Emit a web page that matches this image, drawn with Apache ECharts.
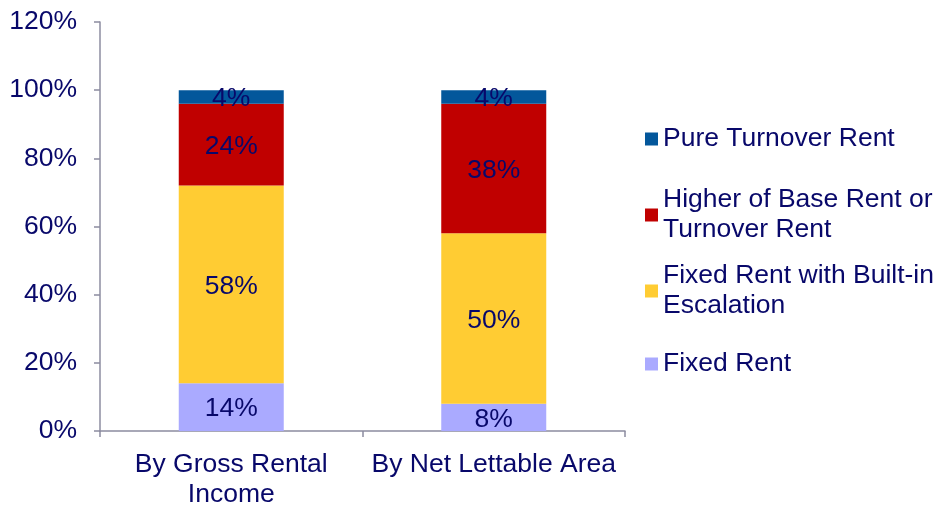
<!DOCTYPE html>
<html>
<head>
<meta charset="utf-8">
<script src="https://cdn.jsdelivr.net/npm/echarts@6/dist/echarts.min.js"></script>
<style>
html,body{margin:0;padding:0;background:#fff;}
#chart{width:940px;height:510px;}
</style>
</head>
<body>
<div id="chart"></div>
<script>
var categories = ['By Gross Rental\nIncome', 'By Net Lettable Area'];
var seriesNames = ['Fixed Rent', 'Fixed Rent with Built-in Escalation', 'Higher of Base Rent or Turnover Rent', 'Pure Turnover Rent'];
var fixedRent = [14, 8];
var fixedEscalation = [58, 50];
var higherOf = [24, 38];
var pureTurnover = [4, 4];
var yTicks = [0, 20, 40, 60, 80, 100, 120];

var colors = ['#AAAAFF', '#FFCC33', '#C00000', '#03579B'];
var textColor = '#08086A';
var axisColor = '#8C8CA0';
var font = 'Liberation Sans, Arial, sans-serif';
var fs = 26.5;

var values = [fixedRent, fixedEscalation, higherOf, pureTurnover];
var legendText = {
  'Pure Turnover Rent': 'Pure Turnover Rent',
  'Higher of Base Rent or Turnover Rent': 'Higher of Base Rent or\nTurnover Rent',
  'Fixed Rent with Built-in Escalation': 'Fixed Rent with Built-in\nEscalation',
  'Fixed Rent': 'Fixed Rent'
};

function mkLegend(name, top, twoLine) {
  return {
    data: [name],
    left: 645,
    top: top,
    orient: 'vertical',
    padding: 0,
    itemWidth: 13,
    itemHeight: 13,
    icon: 'rect',
    selectedMode: false,
    formatter: function (n) { return legendText[n]; },
    textStyle: {
      color: textColor,
      fontFamily: font,
      fontSize: fs,
      lineHeight: 30,
      padding: twoLine ? [30, 0, 0, 0] : 0
    }
  };
}

var chart = echarts.init(document.getElementById('chart'), null, {renderer: 'canvas'});
chart.setOption({
  animation: false,
  color: colors,
  grid: {left: 100, right: 315, top: 22, bottom: 73, containLabel: false},
  legend: [
    mkLegend('Pure Turnover Rent', 124, false),
    mkLegend('Higher of Base Rent or Turnover Rent', 170, true),
    mkLegend('Fixed Rent with Built-in Escalation', 246, true),
    mkLegend('Fixed Rent', 349, false)
  ],
  xAxis: {
    type: 'category',
    data: categories,
    axisLine: {lineStyle: {color: axisColor, width: 1.5}},
    axisTick: {show: true, length: 6, lineStyle: {color: axisColor, width: 1.5}},
    axisLabel: {interval: 0, color: textColor, fontFamily: font, fontSize: fs, lineHeight: 30, margin: 19}
  },
  yAxis: {
    type: 'value',
    min: yTicks[0],
    max: yTicks[yTicks.length - 1],
    interval: yTicks[1] - yTicks[0],
    splitLine: {show: false},
    axisLine: {show: true, lineStyle: {color: axisColor, width: 1.5}},
    axisTick: {show: true, length: 6, lineStyle: {color: axisColor, width: 1.5}},
    axisLabel: {color: textColor, fontFamily: font, fontSize: fs, margin: 23, formatter: '{value}%'}
  },
  series: seriesNames.map(function (n, i) {
    return {
      name: n,
      type: 'bar',
      stack: 'total',
      barWidth: '40%',
      data: values[i],
      label: {
        show: true,
        position: 'inside',
        offset: [0, 2],
        formatter: '{c}%',
        color: textColor,
        fontFamily: font,
        fontSize: fs
      },
      itemStyle: {color: colors[i]}
    };
  })
});
</script>
</body>
</html>
